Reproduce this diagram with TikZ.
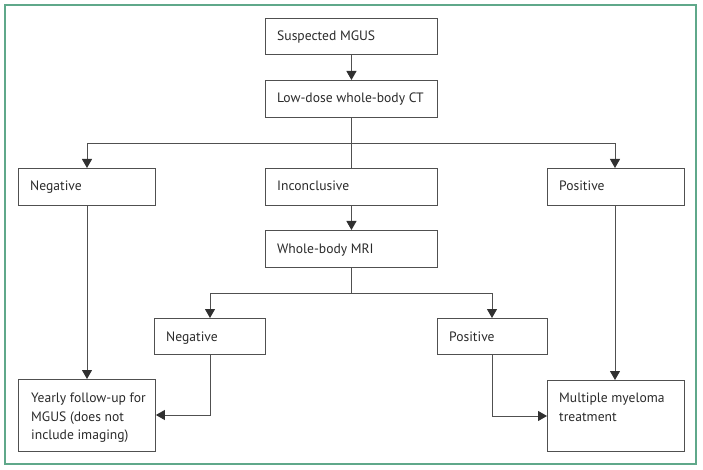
\documentclass[tikz,border=0pt]{standalone}
\usepackage{fontspec}
\setmainfont{PT Sans}
\usetikzlibrary{arrows.meta,calc}
\definecolor{framegreen}{HTML}{5FA88A}
\definecolor{boxgray}{HTML}{505050}
\definecolor{txtgray}{HTML}{2A2A2A}
\definecolor{tipgray}{HTML}{303030}
\tikzset{
  box/.style={draw=boxgray, line width=0.9pt, inner sep=0pt, anchor=north west},
  txt/.style={font=\fontsize{13.6}{18.5}\selectfont, text=txtgray, inner sep=0pt, align=left, anchor=base west},
  conn/.style={draw=boxgray, line width=0.9pt},
  arr/.style={conn, -{Triangle[width=10pt,length=9pt,color=tipgray]}},
}
\begin{document}
\begin{tikzpicture}[x=1pt,y=-1pt]
\useasboundingbox (0,0) rectangle (703,470);
\draw[framegreen, line width=1.2pt] (5,5) rectangle (696,464);
% boxes
\node[box, minimum width=172, minimum height=36] (s)   at (265,18)  {};
\node[box, minimum width=172, minimum height=37] (ct)  at (265,80)  {};
\node[box, minimum width=137, minimum height=37] (neg) at (18,168)  {};
\node[box, minimum width=172, minimum height=37] (inc) at (265,168) {};
\node[box, minimum width=137, minimum height=37] (pos) at (547,168) {};
\node[box, minimum width=172, minimum height=37] (mri) at (265,230) {};
\node[box, minimum width=111, minimum height=36] (neg2) at (154,318) {};
\node[box, minimum width=110, minimum height=36] (pos2) at (437,318) {};
\node[box, minimum width=137, minimum height=72] (yr)  at (18,379)  {};
\node[box, minimum width=137, minimum height=71] (mm)  at (547,380) {};
% texts
\node[txt] (sT)   at ($(s.north west)+(12,23)$)    {Suspected MGUS};
\node[txt] (ctT)  at ($(ct.north west)+(12,23)$)   {Low-dose whole-body CT};
\node[txt] (negT) at ($(neg.north west)+(12,23)$)  {Negative};
\node[txt] (incT) at ($(inc.north west)+(12,23)$)  {Inconclusive};
\node[txt] (posT) at ($(pos.north west)+(12,23)$)  {Positive};
\node[txt] (mriT) at ($(mri.north west)+(12,23)$)  {Whole-body MRI};
\node[txt] (neg2T) at ($(neg2.north west)+(12,23)$) {Negative};
\node[txt] (pos2T) at ($(pos2.north west)+(12,23)$) {Positive};
\node[txt, anchor=north west] (yrT) at ($(yr.north west)+(13,14)$) {Yearly follow-up for\\MGUS (does not\\include imaging)};
\node[txt, anchor=north west] (mmT) at ($(mm.north west)+(12,13)$) {Multiple myeloma\\treatment};
% coordinates
\coordinate (j1) at (351,143);
\coordinate (j2) at (351,293);
% connectors
\draw[arr] (s.south) -- (ct.north);
\draw[conn] (ct.south) -- (inc.north);
\draw[arr] (j1) -| (neg.north -| 87,0);
\draw[arr] (j1) -| (pos.north -| 615,0);
\draw[arr] (inc.south) -- (mri.north);
\draw[conn] (mri.south) -- (mri.south |- j2);
\draw[arr] (j2) -| (neg2.north -| 210,0);
\draw[arr] (j2) -| (pos2.north -| 492,0);
\draw[arr] (neg.south -| 87,0) -- (yr.north -| 87,0);
\draw[arr] (pos.south -| 615,0) -- (mm.north -| 615,0);
\draw[arr] (neg2.south -| 210,0) |- (yr.east |- 0,415);
\draw[arr] (pos2.south -| 492,0) |- (mm.west |- 0,416);
\end{tikzpicture}
\end{document}
